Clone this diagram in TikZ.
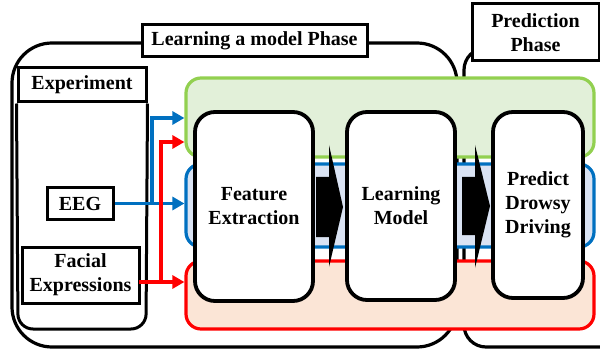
\documentclass[tikz,border=0pt]{standalone}
\usepackage{fontspec}
\setmainfont{Liberation Serif}
\usetikzlibrary{arrows.meta}
\definecolor{gfill}{HTML}{E2F0D9}
\definecolor{gline}{HTML}{92D050}
\definecolor{bfill}{HTML}{DAE3F3}
\definecolor{bline}{HTML}{0070C0}
\definecolor{rfill}{HTML}{FBE5D6}
\definecolor{rline}{HTML}{FF0000}
\begin{document}
\begin{tikzpicture}[x=1pt,y=-1pt,
  txt/.style={font=\bfseries\fontsize{20}{24}\selectfont,align=center,inner sep=0pt},
  phase/.style={draw=black,line width=3.2pt,rounded corners=40pt,inner sep=0pt},
  lbl/.style={txt,draw=black,fill=white,line width=3pt},
  band/.style={line width=3.2pt,rounded corners=15pt,inner sep=0pt},
  wbox/.style={txt,draw=black,fill=white,line width=3.8pt,rounded corners=20pt},
  barr/.style={draw=bline,line width=3.5pt,-{Triangle[length=12pt,width=13pt]}},
  rarr/.style={draw=rline,line width=3.5pt,-{Triangle[length=12pt,width=13pt]}},
]
\useasboundingbox (0,0) rectangle (600,350);
\clip (0,0) rectangle (600,350);
% phase containers
\node[phase,minimum width=445pt,minimum height=304pt] (learn) at (234.5,195) {};
\node[phase,rounded corners=22pt,minimum width=176pt,minimum height=299pt] (pred) at (552,197.5) {};
% phase labels
\node[lbl,minimum width=225pt,minimum height=32pt] (learnlbl) at (254.5,41) {Learning a model Phase};
\node[lbl,minimum width=127pt,minimum height=57pt] (predlbl) at (535.5,32.5) {Prediction\\Phase};
% experiment
\node[lbl,minimum width=128pt,minimum height=34pt] (exp) at (82,85) {Experiment};
\draw[black,line width=3pt,rounded corners=15pt] (exp.south west) -- (18,329) -- (146,329) -- (exp.south east);
\node[lbl,minimum width=66pt,minimum height=31pt] (eeg) at (80,203.5) {EEG};
\node[lbl,minimum width=117pt,minimum height=56pt] (fac) at (80.5,275) {Facial\\Expressions};
% bands
\node[band,draw=gline,fill=gfill,minimum width=408pt,minimum height=79pt] (green) at (390,117.5) {};
\node[band,draw=bline,fill=bfill,minimum width=408pt,minimum height=83pt] (blue) at (390,205.5) {};
\node[band,draw=rline,fill=rfill,minimum width=408pt,minimum height=68pt] (red) at (390,295) {};
% black arrows
\fill[black] (316,177) -- (329,177) -- (329,145) -- (343,207) -- (329,267) -- (329,237) -- (316,237) -- cycle;
\fill[black] (462,177) -- (475,177) -- (475,145) -- (490,206) -- (475,268) -- (475,235) -- (462,235) -- cycle;
% white boxes
\node[wbox,minimum width=118pt,minimum height=189pt] (fe) at (254,206.5) {Feature\\Extraction};
\node[wbox,minimum width=108pt,minimum height=188pt] (lm) at (401,206) {Learning\\Model};
\node[wbox,minimum width=90pt,minimum height=186pt] (pdd) at (538,205) {Predict\\Drowsy\\Driving};
% coloured arrows
\coordinate (bv) at (152,118);
\coordinate (rv) at (161,142);
\coordinate (rs) at (139,282);
\draw[barr] (eeg.east) -- (eeg.east -| blue.west);
\draw[barr] (eeg.east -| bv) |- (bv -| green.west);
\draw[rarr] (rs) -- (rs -| red.west);
\draw[rarr] (rs -| rv) |- (rv -| green.west);
\end{tikzpicture}
\end{document}
